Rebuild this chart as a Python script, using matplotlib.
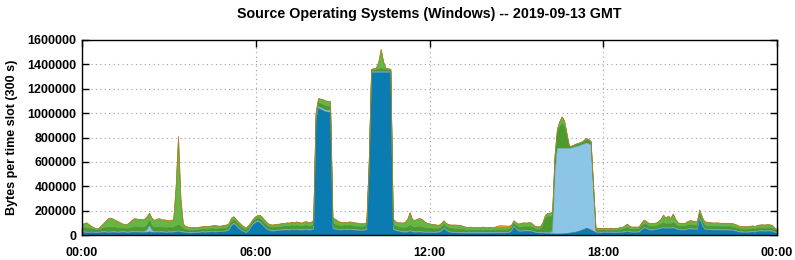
import numpy as np
import matplotlib
matplotlib.use("Agg")
import matplotlib.pyplot as plt

plt.rcParams['font.family'] = ['Liberation Sans', 'DejaVu Sans']

# 5-minute slots over the day (00:00 .. 24:00), values in thousands of bytes
# dark blue series (bottom)
win_a = [
    22, 20, 18, 18, 20, 18, 17, 18, 20, 22, 20, 18,
    20, 22, 20, 18, 20, 22, 20, 18, 20, 22, 24, 22,
    22, 20, 20, 22, 25, 22, 20, 22, 20, 22, 20, 18,
    20, 20, 22, 25, 28, 24, 20, 18, 16, 15, 16, 17,
    18, 20, 22, 20, 22, 24, 25, 22, 24, 25, 26, 28,
    30, 40, 75, 88, 70, 50, 35, 25, 16, 30, 60, 85,
    100, 108, 95, 75, 55, 40, 32, 30, 32, 34, 35, 36,
    38, 40, 38, 42, 40, 42, 40, 38, 40, 42, 38, 40,
    42, 940, 1040, 1030, 1020, 1010, 1008, 1004, 50, 45, 42, 40,
    40, 42, 40, 42, 40, 38, 36, 35, 35, 36, 38, 520,
    1332, 1332, 1332, 1332, 1332, 1332, 1332, 1332, 1332, 40, 35, 30,
    25, 22, 20, 22, 30, 22, 20, 20, 22, 20, 18, 18,
    18, 17, 16, 18, 20, 30, 50, 35, 22, 18, 17, 16,
    16, 15, 15, 14, 14, 15, 14, 14, 15, 14, 15, 14,
    14, 15, 14, 15, 16, 15, 16, 15, 16, 18, 30, 65,
    45, 30, 28, 30, 32, 30, 30, 25, 18, 16, 15, 15,
    14, 12, 10, 10, 8, 8, 8, 8, 10, 12, 15, 18,
    20, 25, 30, 38, 45, 55, 50, 40, 30, 20, 18, 17,
    18, 19, 18, 19, 18, 17, 18, 19, 20, 22, 28, 22,
    20, 20, 20, 22, 40, 55, 50, 40, 38, 40, 42, 48,
    52, 58, 52, 55, 52, 58, 50, 42, 40, 40, 40, 45,
    48, 45, 44, 42, 137, 80, 45, 42, 41, 40, 40, 40,
    40, 38, 38, 38, 37, 36, 35, 30, 25, 22, 20, 20,
    20, 22, 25, 22, 28, 30, 30, 28, 30, 30, 28, 20,
    15,
]
# light blue series
win_b = [
    6, 6, 6, 5, 5, 5, 5, 5, 6, 6, 6, 6,
    6, 6, 6, 6, 6, 6, 6, 6, 6, 6, 6, 6,
    6, 6, 8, 20, 50, 15, 6, 6, 6, 6, 6, 6,
    6, 6, 6, 6, 6, 6, 6, 5, 5, 5, 5, 5,
    5, 5, 5, 5, 5, 5, 5, 5, 5, 5, 5, 5,
    5, 6, 8, 8, 7, 6, 5, 5, 5, 5, 6, 8,
    8, 8, 8, 7, 6, 6, 6, 6, 6, 6, 6, 6,
    6, 6, 6, 6, 6, 6, 6, 6, 6, 6, 6, 6,
    6, 10, 14, 14, 14, 14, 14, 14, 8, 6, 6, 6,
    6, 6, 6, 6, 6, 6, 6, 6, 6, 6, 6, 8,
    6, 6, 6, 6, 6, 6, 6, 6, 6, 6, 6, 6,
    6, 6, 6, 6, 6, 6, 6, 6, 6, 6, 6, 6,
    6, 6, 6, 6, 6, 6, 6, 6, 6, 6, 6, 6,
    5, 5, 5, 5, 5, 5, 5, 5, 5, 5, 5, 5,
    5, 5, 5, 5, 5, 5, 5, 5, 5, 5, 5, 5,
    5, 5, 5, 5, 5, 5, 5, 5, 5, 5, 5, 5,
    6, 6, 8, 20, 492, 703, 703, 703, 701, 699, 696, 696,
    700, 700, 700, 700, 700, 697, 698, 698, 340, 6, 5, 5,
    5, 5, 5, 5, 5, 5, 5, 5, 5, 5, 5, 5,
    5, 5, 5, 5, 5, 5, 5, 5, 5, 5, 5, 5,
    5, 5, 5, 5, 5, 5, 5, 5, 5, 5, 5, 5,
    5, 5, 5, 5, 5, 5, 5, 5, 5, 5, 5, 5,
    5, 5, 5, 5, 5, 5, 5, 5, 5, 5, 5, 5,
    5, 5, 5, 5, 5, 5, 5, 5, 5, 5, 5, 5,
    5,
]
# dark green series
win_c = [
    25, 30, 32, 28, 22, 20, 15, 16, 22, 28, 32, 35,
    36, 34, 32, 30, 28, 25, 24, 25, 28, 32, 35, 34,
    34, 33, 34, 36, 38, 35, 32, 34, 35, 33, 32, 32,
    32, 32, 33, 40, 45, 38, 25, 18, 16, 15, 14, 15,
    15, 16, 17, 18, 17, 18, 19, 20, 19, 18, 19, 20,
    20, 22, 25, 25, 22, 22, 20, 18, 16, 18, 15, 16,
    18, 20, 25, 25, 24, 22, 22, 21, 22, 22, 22, 24,
    24, 25, 25, 26, 25, 27, 26, 25, 26, 28, 25, 26,
    30, 25, 30, 30, 32, 32, 32, 32, 35, 32, 28, 26,
    25, 27, 26, 28, 27, 26, 25, 24, 23, 24, 25, 30,
    12, 14, 15, 20, 25, 20, 15, 14, 12, 35, 30, 28,
    28, 28, 30, 35, 40, 35, 34, 36, 38, 36, 32, 28,
    28, 27, 26, 25, 24, 25, 28, 25, 26, 25, 25, 25,
    25, 24, 22, 20, 19, 20, 19, 18, 19, 18, 20, 19,
    18, 19, 18, 19, 19, 19, 19, 19, 19, 19, 20, 22,
    25, 26, 28, 30, 28, 30, 30, 26, 22, 22, 22, 50,
    110, 130, 130, 120, 110, 120, 170, 200, 170, 90, 12, 10,
    12, 14, 15, 15, 18, 25, 23, 18, 20, 15, 14, 14,
    14, 14, 14, 15, 14, 14, 15, 16, 17, 20, 25, 19,
    18, 19, 18, 19, 25, 28, 26, 24, 24, 24, 24, 26,
    30, 35, 30, 32, 30, 35, 30, 25, 24, 24, 24, 26,
    28, 28, 27, 27, 25, 25, 26, 25, 25, 24, 24, 24,
    24, 24, 24, 24, 24, 24, 23, 22, 20, 19, 18, 18,
    18, 19, 20, 18, 20, 20, 21, 20, 21, 21, 20, 16,
    10,
]
# light green series
win_d = [
    25, 36, 41, 32, 21, 15, 11, 14, 23, 33, 50, 68,
    70, 62, 58, 53, 43, 34, 32, 38, 48, 62, 67, 65,
    63, 63, 65, 68, 63, 64, 56, 60, 66, 59, 59, 58,
    54, 56, 56, 319, 719, 222, 36, 27, 26, 25, 23, 23,
    22, 22, 22, 25, 22, 23, 24, 29, 25, 22, 23, 25,
    25, 25, 29, 26, 23, 25, 23, 20, 19, 20, 17, 18,
    21, 23, 29, 30, 28, 25, 23, 23, 23, 24, 25, 27,
    25, 27, 27, 29, 27, 31, 28, 27, 31, 32, 29, 30,
    40, 22, 34, 38, 41, 41, 41, 41, 44, 45, 37, 31,
    27, 28, 28, 30, 29, 28, 29, 28, 26, 27, 29, 40,
    8, 11, 15, 59, 156, 59, 13, 11, 8, 47, 37, 34,
    39, 40, 47, 65, 105, 60, 58, 66, 67, 64, 52, 41,
    38, 36, 35, 31, 28, 32, 31, 27, 29, 31, 32, 33,
    32, 32, 26, 24, 22, 23, 22, 21, 21, 21, 23, 22,
    21, 21, 21, 20, 20, 21, 20, 21, 20, 20, 22, 22,
    23, 27, 32, 33, 31, 33, 35, 27, 23, 23, 24, 28,
    28, 28, 30, 33, 37, 36, 46, 57, 51, 26, 2, 3,
    5, 6, 7, 6, 9, 13, 11, 9, 7, 15, 16, 17,
    16, 15, 15, 15, 16, 16, 16, 18, 18, 26, 30, 22,
    20, 20, 19, 20, 28, 33, 27, 25, 26, 25, 25, 29,
    41, 64, 49, 61, 46, 72, 43, 26, 25, 24, 25, 32,
    35, 35, 34, 34, 36, 38, 32, 31, 29, 29, 27, 29,
    27, 27, 28, 27, 27, 27, 27, 26, 23, 22, 23, 23,
    25, 24, 23, 23, 25, 25, 26, 27, 27, 26, 25, 17,
    10,
]
# orange series (top)
win_e = [
    2, 3, 3, 2, 2, 2, 2, 2, 4, 6, 7, 8,
    8, 6, 4, 3, 3, 3, 3, 3, 3, 3, 3, 3,
    3, 3, 3, 4, 4, 4, 6, 8, 8, 8, 8, 8,
    8, 8, 8, 10, 12, 10, 3, 2, 2, 2, 2, 2,
    2, 2, 2, 2, 2, 2, 2, 2, 2, 2, 2, 2,
    2, 2, 3, 3, 3, 2, 2, 2, 2, 2, 2, 3,
    3, 3, 3, 3, 2, 2, 2, 2, 2, 2, 2, 2,
    2, 2, 2, 2, 2, 2, 2, 2, 2, 2, 2, 2,
    2, 3, 3, 3, 3, 3, 3, 3, 3, 2, 2, 2,
    2, 2, 2, 2, 2, 2, 2, 2, 2, 2, 2, 2,
    2, 2, 2, 3, 4, 3, 2, 2, 2, 2, 2, 2,
    2, 2, 2, 2, 2, 2, 2, 2, 2, 2, 2, 2,
    2, 2, 2, 2, 2, 2, 2, 2, 2, 2, 2, 2,
    2, 2, 2, 2, 2, 2, 2, 2, 2, 2, 2, 2,
    2, 2, 2, 3, 12, 15, 16, 15, 14, 10, 3, 3,
    2, 2, 2, 2, 2, 2, 2, 2, 2, 2, 2, 2,
    2, 2, 2, 2, 3, 3, 3, 3, 3, 3, 3, 3,
    3, 3, 3, 3, 3, 3, 3, 3, 3, 2, 2, 2,
    2, 2, 2, 2, 2, 2, 2, 2, 2, 2, 2, 2,
    2, 2, 2, 2, 2, 2, 2, 2, 2, 2, 2, 2,
    2, 2, 2, 2, 2, 2, 2, 2, 2, 2, 2, 2,
    2, 2, 2, 2, 2, 2, 2, 2, 2, 2, 2, 2,
    2, 2, 2, 2, 2, 2, 2, 2, 2, 2, 2, 2,
    2, 2, 2, 2, 2, 2, 2, 2, 2, 2, 2, 2,
    2,
]

tick_hours = [0, 6, 12, 18, 24]
tick_labels = ["00:00", "06:00", "12:00", "18:00", "00:00"]
y_ticks = [0, 200000, 400000, 600000, 800000, 1000000, 1200000, 1400000, 1600000]

series = [np.array(s, dtype=float) * 1000 for s in (win_a, win_b, win_c, win_d, win_e)]
hours = np.arange(len(win_a)) * 5 / 60.0
colors = ['#0a7cb2', '#8cc5e5', '#4b9b2e', '#66b545', '#e89a1c']
edge_colors = ['#2a6a90', '#6ca8c8', '#3f8a28', '#5aa23c', '#b87a20']

fig = plt.figure(figsize=(7.95, 2.60), dpi=100)
ax = fig.add_axes([82 / 795, 25 / 260, (777 - 82) / 795, (235 - 40) / 260])

ax.stackplot(hours, *series, colors=colors, linewidth=0, zorder=2)
cum = np.cumsum(np.vstack(series), axis=0)
for i in range(len(series)):
    ax.plot(hours, cum[i], color=edge_colors[i], lw=0.5, zorder=3)

ax.set_xlim(0, 24)
ax.set_ylim(0, 1600000)
ax.set_xticks(tick_hours)
ax.set_xticklabels(tick_labels)
ax.set_yticks(y_ticks)
ax.set_yticklabels([str(v) for v in y_ticks])

for lab in ax.get_xticklabels() + ax.get_yticklabels():
    lab.set_fontweight('bold')
    lab.set_fontsize(9)

ax.tick_params(direction='in', length=5, width=1, top=True, right=True, pad=4, colors='black')
ax.tick_params(axis='x', pad=9)
ax.grid(True, color='#a0a0a0', linestyle=(0, (1, 3)), linewidth=0.8, zorder=1)
ax.set_axisbelow(True)
for sp in ax.spines.values():
    sp.set_linewidth(1.0)
    sp.set_zorder(5)

ax.set_ylabel("Bytes per time slot (300 s)", fontsize=9, fontweight='bold', labelpad=7)
ax.set_title("Source Operating Systems (Windows) -- 2019-09-13 GMT", fontsize=10.3,
             fontweight='bold', pad=16)

fig.savefig("out.png", dpi=100)
